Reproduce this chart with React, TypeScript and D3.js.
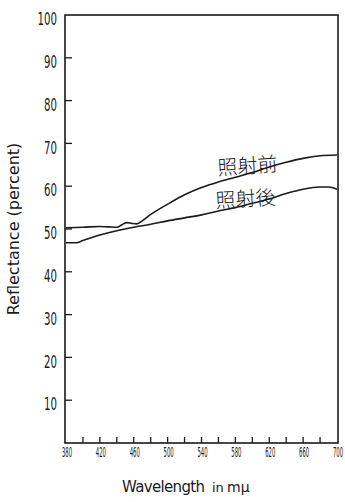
import React from 'react';
import * as d3 from 'd3';

// reflectance before irradiation (照射前)
const beforeNm = [380, 400, 420, 430, 440, 446, 452, 458, 463, 470, 480, 500, 520, 540, 560, 580, 600, 620, 640, 660, 680, 700];
const beforePct = [50.3, 50.4, 50.6, 50.5, 50.4, 51.0, 51.5, 51.3, 51.2, 51.9, 53.4, 55.8, 58.0, 59.7, 61.0, 62.1, 63.2, 64.5, 65.6, 66.5, 67.1, 67.3];

// reflectance after irradiation (照射後)
const afterNm = [380, 392, 400, 420, 440, 460, 480, 500, 520, 540, 560, 580, 600, 620, 640, 660, 680, 690, 700];
const afterPct = [46.8, 46.8, 47.3, 48.6, 49.6, 50.4, 51.1, 51.9, 52.6, 53.3, 54.2, 55.0, 56.0, 57.0, 58.3, 59.3, 59.8, 59.8, 59.3];

const xTickLabels = [380, 420, 460, 500, 540, 580, 620, 660, 700];
const xMinorTicks = [400, 420, 440, 460, 480, 500, 520, 540, 560, 580, 600, 620, 640, 660, 680];
const yTickLabels = [10, 20, 30, 40, 50, 60, 70, 80, 90, 100];

const W = 345;
const H = 502;
const left = 65, right = 338, top = 15, bottom = 443;

export default function App() {
  const x = d3.scaleLinear().domain([380, 700]).range([left + 1, right - 1]);
  const y = d3.scaleLinear().domain([0, 100]).range([bottom, top]);

  const line = d3.line<[number, number]>()
    .x(d => x(d[0]))
    .y(d => y(d[1]))
    .curve(d3.curveMonotoneX);

  const before = beforeNm.map((n, i) => [n, beforePct[i]] as [number, number]);
  const after = afterNm.map((n, i) => [n, afterPct[i]] as [number, number]);

  const ink = '#1a1a1a';
  const numFont = '"DejaVu Sans", sans-serif';

  return (
    <svg width={W} height={H} style={{ position: 'absolute', left: 0, top: 0, background: '#fff' }}>
      <rect x={left} y={top} width={right - left} height={bottom - top} fill="none" stroke={ink} strokeWidth={1.6} />

      {yTickLabels.slice(0, -1).map(v => (
        <line key={'yt' + v} x1={left} x2={left + 7} y1={y(v)} y2={y(v)} stroke={ink} strokeWidth={1.3} />
      ))}
      {yTickLabels.map(v => (
        <g key={'yl' + v} transform={`translate(57,${y(v) + 4}) scale(0.6,1)`}>
          <text textAnchor="end" dy="0.36em" fontSize={17} fontFamily={numFont} fill={ink}>{v}</text>
        </g>
      ))}

      {xMinorTicks.map(v => (
        <line key={'xt' + v} x1={x(v)} x2={x(v)} y1={bottom} y2={bottom - 6} stroke={ink} strokeWidth={1.3} />
      ))}
      {xTickLabels.map(v => (
        <g key={'xl' + v} transform={`translate(${x(v) + 1},457) scale(0.38,1)`}>
          <text textAnchor="middle" fontSize={14} fontFamily={numFont} fill={ink}>{v}</text>
        </g>
      ))}

      <path d={line(before) || ''} fill="none" stroke={ink} strokeWidth={1.6} />
      <path d={line(after) || ''} fill="none" stroke={ink} strokeWidth={1.6} />

      <g transform="translate(248,173) rotate(-4)">
        <text textAnchor="middle" fontSize={20} fontFamily='"Noto Sans CJK JP", sans-serif' fontWeight={300} fill={ink}>照射前</text>
      </g>
      <g transform="translate(246,206) rotate(-3.5)">
        <text textAnchor="middle" fontSize={20} fontFamily='"Noto Sans CJK JP", sans-serif' fontWeight={300} fill={ink}>照射後</text>
      </g>

      <g transform="translate(19,229) rotate(-90)">
        <text textAnchor="middle" fontSize={16} fontFamily={numFont} fill={ink}>Reflectance (percent)</text>
      </g>
      <text x={122} y={492} fontSize={15} fontFamily={numFont} fill={ink} textLength={83}>Wavelength</text>
      <text x={212} y={492} fontSize={13} fontFamily={numFont} fill={ink}>in</text>
      <text x={227} y={492} fontSize={14} fontFamily={numFont} fill={ink}>mμ</text>
    </svg>
  );
}
